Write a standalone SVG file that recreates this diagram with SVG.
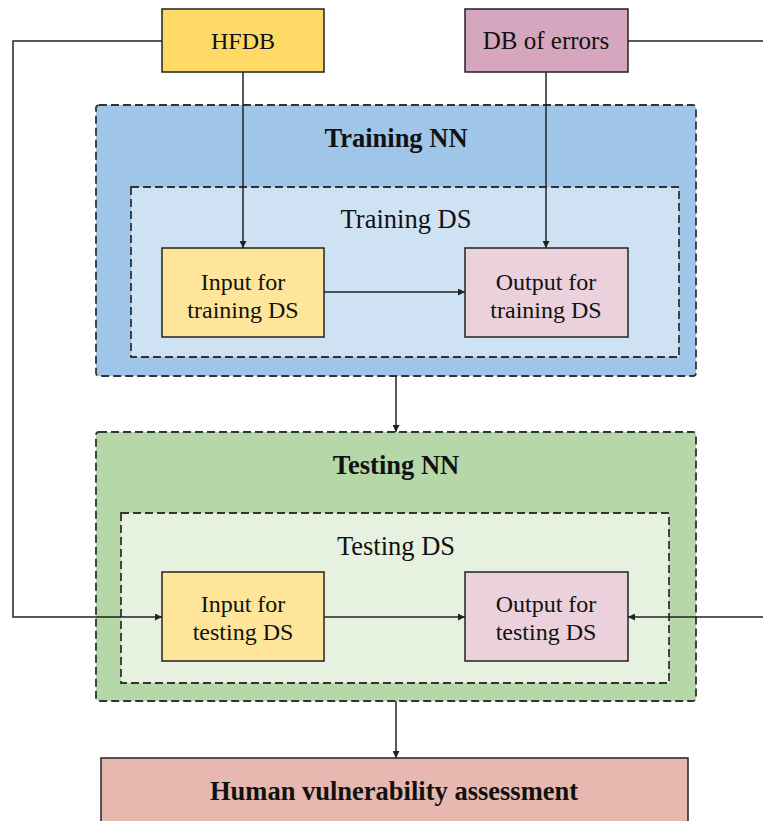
<svg xmlns="http://www.w3.org/2000/svg" width="763" height="821" viewBox="0 0 763 821">
<style>
text{fill:#111;text-anchor:middle}
.t{font-size:24px}
.l{font-size:26.5px}
.b{font-size:26.5px;font-weight:bold}
.box{stroke:#222;stroke-width:1.5}
.dash{stroke:#333;stroke-width:1.8;stroke-dasharray:8 4}
.ln{fill:none;stroke:#222;stroke-width:1.5}
</style>
<defs>
<marker id="ah" viewBox="0 0 10 10" refX="10" refY="5" markerWidth="7" markerHeight="7" markerUnits="userSpaceOnUse" orient="auto"><path d="M0,0 L10,5 L0,10 z" fill="#222"/></marker>
</defs>
<g font-family="Liberation Serif, Times New Roman, DejaVu Serif, serif">
<g id="training-nn"><rect x="96" y="105" width="600" height="271" rx="3" fill="#9fc5e8" class="dash"/><text class="b" x="396" y="147">Training NN</text></g>
<g id="training-ds"><rect x="131" y="187" width="548" height="170" fill="#cfe2f3" class="dash"/><text class="l" x="406" y="228">Training DS</text></g>
<g id="testing-nn"><rect x="96" y="432" width="600" height="269" rx="3" fill="#b6d7a8" class="dash"/><text class="b" x="396" y="474">Testing NN</text></g>
<g id="testing-ds"><rect x="121" y="513" width="548" height="170" fill="#e6f1e0" class="dash"/><text class="l" x="396" y="555">Testing DS</text></g>
<g id="hfdb"><rect x="162" y="9" width="162" height="63" fill="#ffd966" class="box"/><text class="t" x="243" y="49">HFDB</text></g>
<g id="db-errors"><rect x="465" y="9" width="163" height="63" fill="#d5a6bd" class="box"/><text class="t" x="546" y="49" style="font-size:25px">DB of errors</text></g>
<g id="input-training"><rect x="162" y="248" width="162" height="89" fill="#ffe599" class="box"/><text class="t" x="243" y="290">Input for</text><text class="t" x="243" y="318">training DS</text></g>
<g id="output-training"><rect x="465" y="248" width="163" height="89" fill="#ead1dc" class="box"/><text class="t" x="546" y="290">Output for</text><text class="t" x="546" y="318">training DS</text></g>
<g id="input-testing"><rect x="162" y="572" width="162" height="89" fill="#ffe599" class="box"/><text class="t" x="243" y="612">Input for</text><text class="t" x="243" y="640">testing DS</text></g>
<g id="output-testing"><rect x="465" y="572" width="163" height="89" fill="#ead1dc" class="box"/><text class="t" x="546" y="612">Output for</text><text class="t" x="546" y="640">testing DS</text></g>
<g id="hva"><rect x="101" y="758" width="587" height="70" fill="#e6b8af" class="box"/><text class="b" x="394" y="800">Human vulnerability assessment</text></g>
</g>
<g id="connectors">
<path class="ln" d="M243,72 V248" marker-end="url(#ah)"/>
<path class="ln" d="M546,72 V248" marker-end="url(#ah)"/>
<path class="ln" d="M324,292 H465" marker-end="url(#ah)"/>
<path class="ln" d="M396,376 V432" marker-end="url(#ah)"/>
<path class="ln" d="M162,41 H13 V617 H162" marker-end="url(#ah)"/>
<path class="ln" d="M628,41 H763"/>
<path class="ln" d="M763,617 H628" marker-end="url(#ah)"/>
<path class="ln" d="M324,617 H465" marker-end="url(#ah)"/>
<path class="ln" d="M396,701 V758" marker-end="url(#ah)"/>
</g>
</svg>
